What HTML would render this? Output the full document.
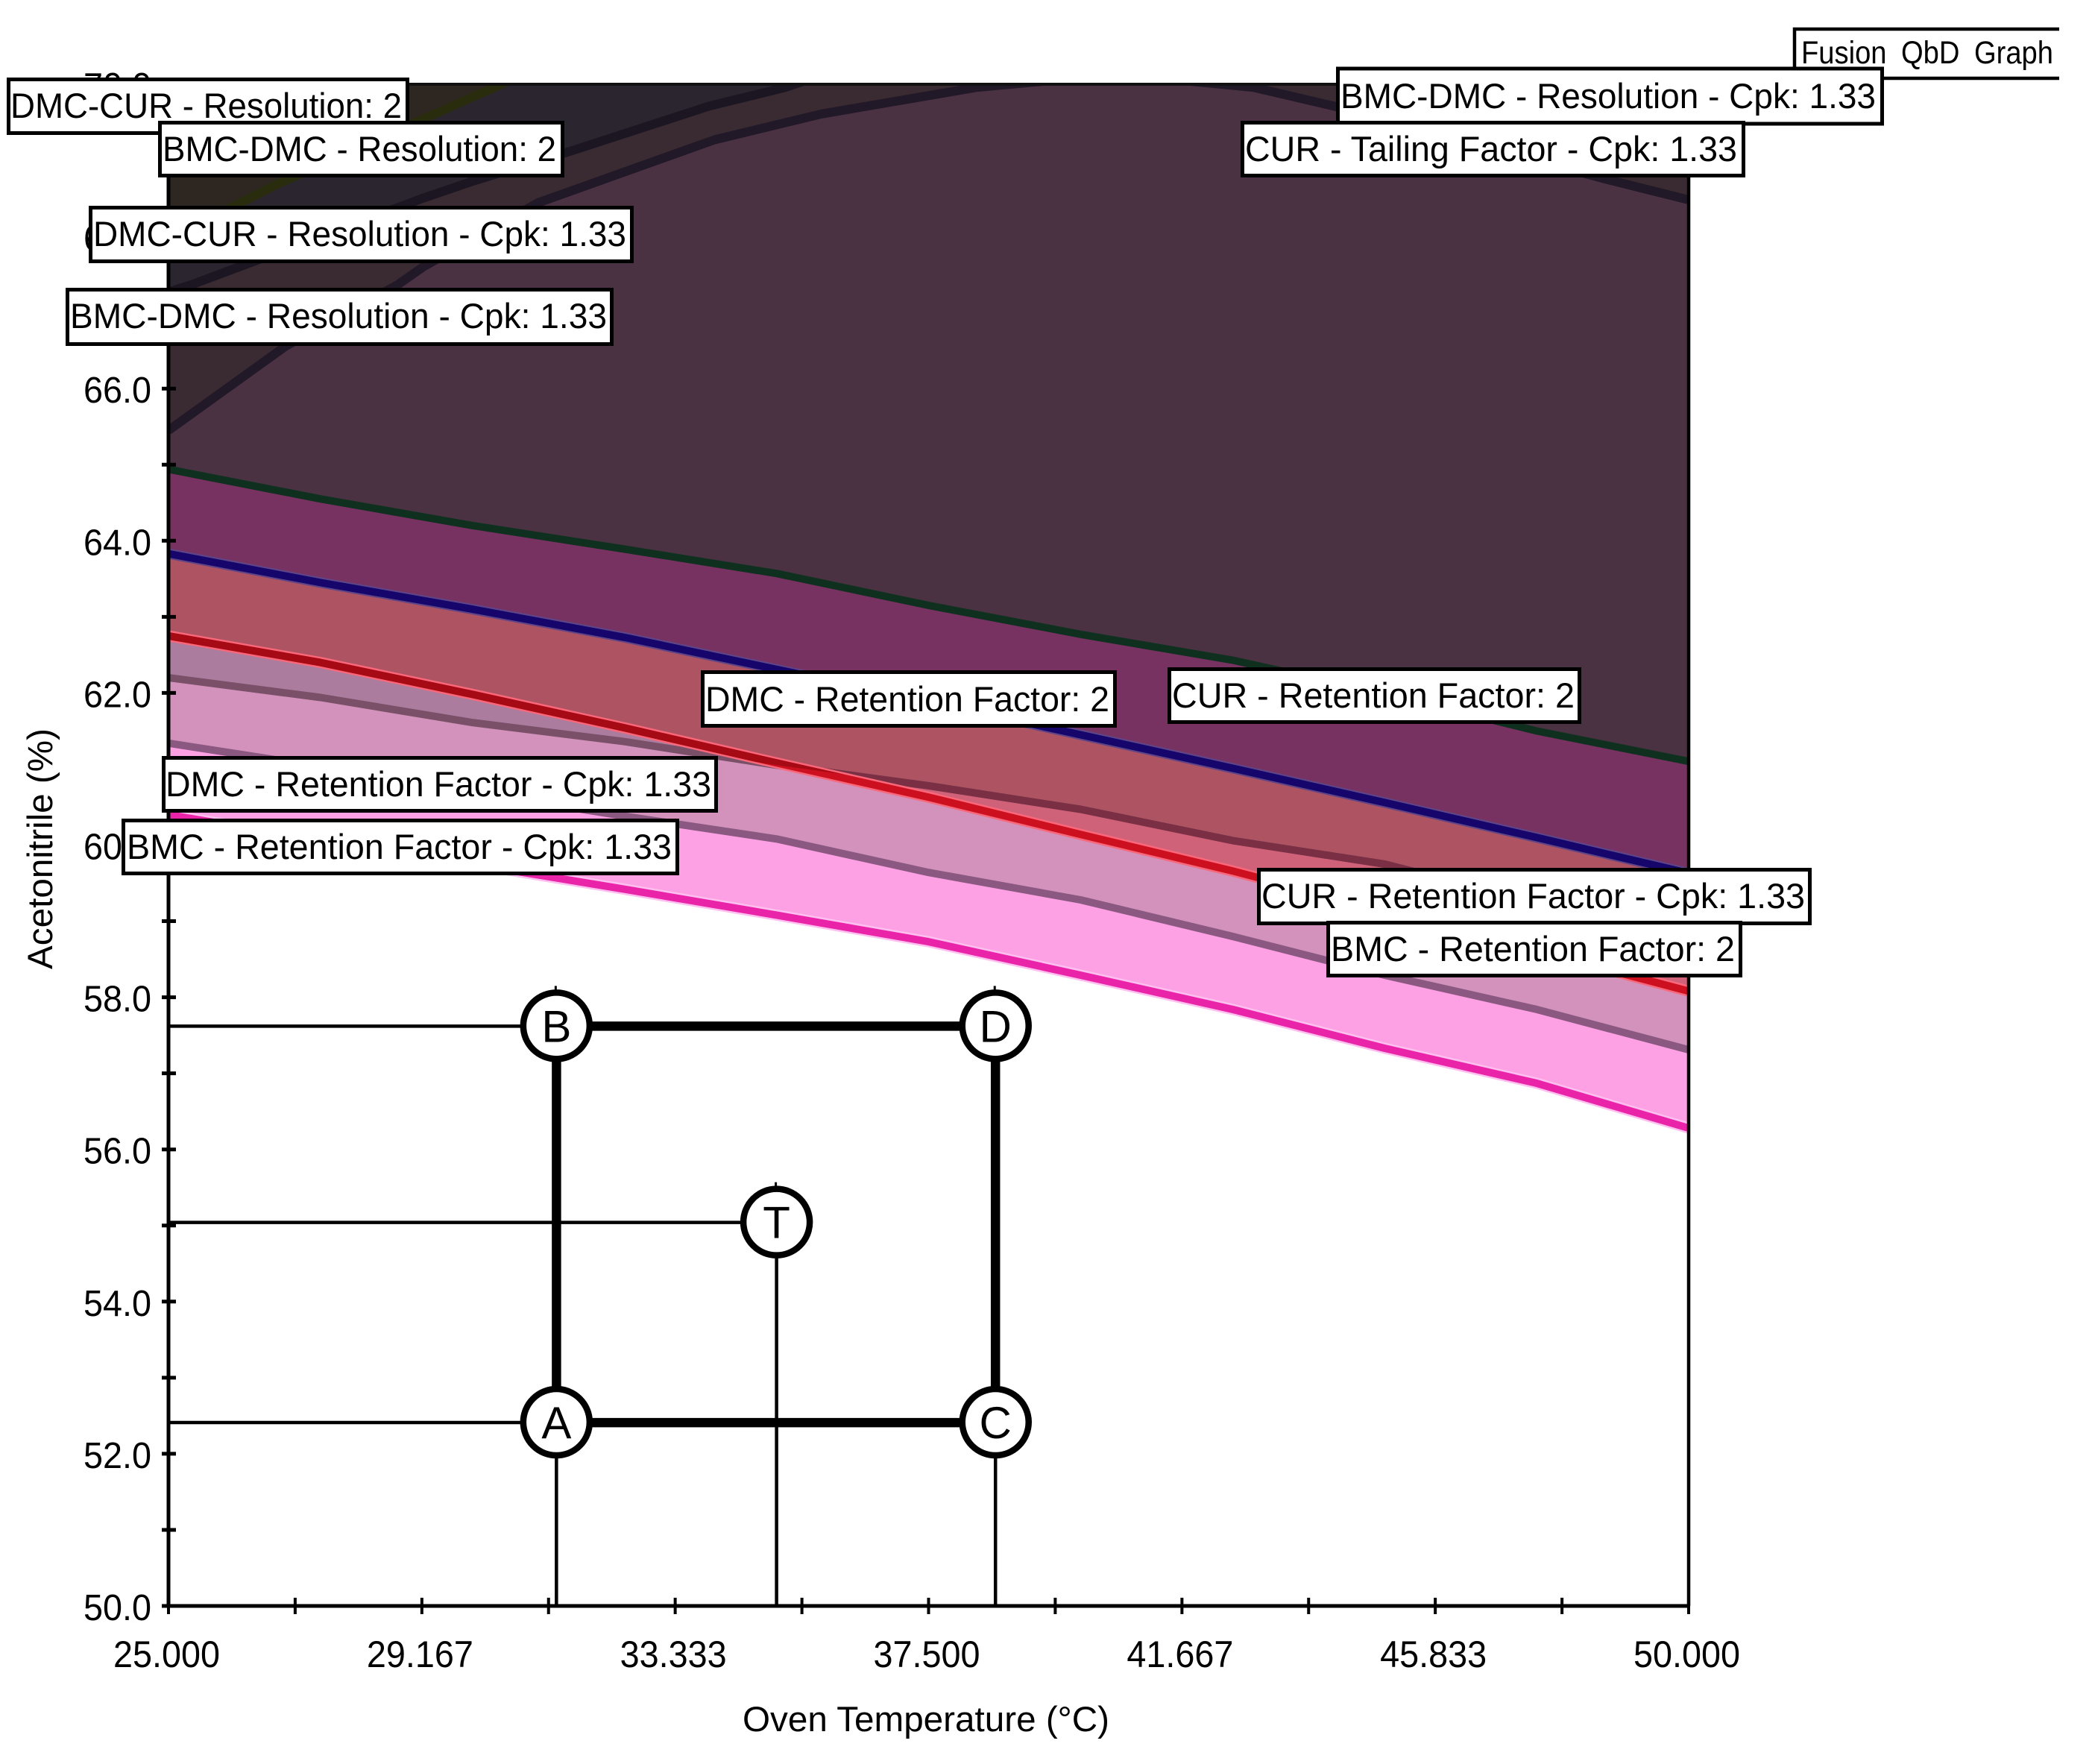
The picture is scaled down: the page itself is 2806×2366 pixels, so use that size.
<!DOCTYPE html>
<html lang="en">
<head>
<meta charset="utf-8">
<title>Fusion QbD Graph</title>
<style>
html,body{margin:0;padding:0;background:#fff;width:2806px;height:2366px;overflow:hidden}
svg{display:block}
text{font-family:"Liberation Sans",sans-serif;font-size:47px;fill:#000}
</style>
</head>
<body>
<svg id="chart" xmlns="http://www.w3.org/2000/svg" width="2806" height="2366" viewBox="0 0 2806 2366">
  <defs>
    <clipPath id="plot-clip"><rect x="226" y="113" width="2039" height="2041"/></clipPath>
  </defs>
  <rect x="0" y="0" width="2806" height="2366" fill="#fff"/>
  <g id="regions" clip-path="url(#plot-clip)"></g>
  <g id="contours" clip-path="url(#plot-clip)"></g>
  <g id="guides"></g>
  <g id="axes"></g>
  <g id="markers"></g>

  <text x="996" y="2322" textLength="492" lengthAdjust="spacingAndGlyphs">Oven Temperature (°C)</text>
  <text transform="translate(70,1300) rotate(-90)" x="0" y="0" textLength="323" lengthAdjust="spacingAndGlyphs">Acetonitrile (%)</text>

  <g>
    <rect x="2405" y="37" width="357" height="70" fill="#fff"/>
    <path d="M2762 39H2407V105H2762" fill="none" stroke="#000" stroke-width="4.5"/>
    <text x="2416" y="85" style="font-size:43px;word-spacing:10px" textLength="338" lengthAdjust="spacingAndGlyphs">Fusion QbD Graph</text>
  </g>

  <g>
    <rect x="11.5" y="106.5" width="535" height="72" fill="#fff" stroke="#000" stroke-width="5"/>
    <text x="14" y="158" textLength="525" lengthAdjust="spacingAndGlyphs">DMC-CUR - Resolution: 2</text>
  </g>
  <g>
    <rect x="214.5" y="164.5" width="540" height="71" fill="#fff" stroke="#000" stroke-width="5"/>
    <text x="218" y="216" textLength="528" lengthAdjust="spacingAndGlyphs">BMC-DMC - Resolution: 2</text>
  </g>
  <g>
    <rect x="121.5" y="278.5" width="726" height="72" fill="#fff" stroke="#000" stroke-width="5"/>
    <text x="125" y="330" textLength="715" lengthAdjust="spacingAndGlyphs">DMC-CUR - Resolution - Cpk: 1.33</text>
  </g>
  <g>
    <rect x="90.5" y="388.5" width="730" height="73" fill="#fff" stroke="#000" stroke-width="5"/>
    <text x="94" y="440" textLength="720" lengthAdjust="spacingAndGlyphs">BMC-DMC - Resolution - Cpk: 1.33</text>
  </g>
  <g>
    <rect x="1794.5" y="92" width="730" height="74" fill="#fff" stroke="#000" stroke-width="5"/>
    <text x="1798" y="145" textLength="718" lengthAdjust="spacingAndGlyphs">BMC-DMC - Resolution - Cpk: 1.33</text>
  </g>
  <g>
    <rect x="1666.5" y="164.5" width="672" height="71" fill="#fff" stroke="#000" stroke-width="5"/>
    <text x="1670" y="216" textLength="660" lengthAdjust="spacingAndGlyphs">CUR - Tailing Factor - Cpk: 1.33</text>
  </g>
  <g>
    <rect x="942.5" y="901.5" width="553" height="72" fill="#fff" stroke="#000" stroke-width="5"/>
    <text x="946" y="954" textLength="542" lengthAdjust="spacingAndGlyphs">DMC - Retention Factor: 2</text>
  </g>
  <g>
    <rect x="1568.5" y="897.5" width="550" height="71" fill="#fff" stroke="#000" stroke-width="5"/>
    <text x="1572" y="949" textLength="540" lengthAdjust="spacingAndGlyphs">CUR - Retention Factor: 2</text>
  </g>
  <g>
    <rect x="219.5" y="1016.5" width="741" height="71" fill="#fff" stroke="#000" stroke-width="5"/>
    <text x="222" y="1068" textLength="732" lengthAdjust="spacingAndGlyphs">DMC - Retention Factor - Cpk: 1.33</text>
  </g>
  <g>
    <rect x="165.5" y="1100.5" width="743" height="71" fill="#fff" stroke="#000" stroke-width="5"/>
    <text x="170" y="1152" textLength="731" lengthAdjust="spacingAndGlyphs">BMC - Retention Factor - Cpk: 1.33</text>
  </g>
  <g>
    <rect x="1688.5" y="1166.5" width="739" height="72" fill="#fff" stroke="#000" stroke-width="5"/>
    <text x="1692" y="1218" textLength="729" lengthAdjust="spacingAndGlyphs">CUR - Retention Factor - Cpk: 1.33</text>
  </g>
  <g>
    <rect x="1781.5" y="1237.5" width="553" height="71" fill="#fff" stroke="#000" stroke-width="5"/>
    <text x="1785" y="1289" textLength="542" lengthAdjust="spacingAndGlyphs">BMC - Retention Factor: 2</text>
  </g>
</svg>

<script>
// ---- chart data ----
const temps = [25, 27.5, 30, 32.5, 35, 37.5, 40, 42.5, 45, 47.5, 50];
const bmcRetention2 = [60.40, 60.06, 59.75, 59.42, 59.08, 58.73, 58.29, 57.84, 57.33, 56.87, 56.28];
const bmcRetentionCpk = [61.34, 61.03, 60.70, 60.38, 60.08, 59.64, 59.28, 58.80, 58.29, 57.84, 57.31];
const curRetentionCpk = [62.75, 62.40, 61.98, 61.54, 61.08, 60.63, 60.14, 59.66, 59.14, 58.61, 58.08];
const dmcRetentionCpk = [62.20, 61.94, 61.61, 61.36, 61.05, 60.78, 60.47, 60.06, 59.75, 59.24, 58.75];
const dmcRetention2 = [63.83, 63.45, 63.10, 62.73, 62.31, 61.89, 61.45, 61.01, 60.56, 60.10, 59.63];
const curRetention2 = [64.94, 64.55, 64.20, 63.89, 63.57, 63.15, 62.77, 62.43, 61.99, 61.50, 61.10];
const cpkArcTemps = [25, 26.93, 28.76, 29.19, 31.07, 33.98, 35.74, 38.30, 40.62, 42.84, 44.23, 48.6, 50];
const cpkArcValues = [65.45, 66.56, 67.36, 67.6, 68.44, 69.27, 69.61, 69.96, 70.13, 69.96, 69.70, 68.76, 68.48];
const bmcDmcRes2Temps = [25, 25.36, 29.14, 30.02, 31.61, 33.88, 35.15, 35.96];
const bmcDmcRes2Values = [67.27, 67.36, 68.49, 68.73, 69.12, 69.71, 69.96, 70.18];
const dmcCurRes2Temps = [25, 26.14, 26.77, 30.36, 30.81];
const dmcCurRes2Values = [68.02, 68.42, 68.68, 69.96, 70.13];
const xTickValues = [25, 27.083, 29.167, 31.25, 33.333, 35.417, 37.5, 39.583, 41.667, 43.75, 45.833, 47.917, 50];
const xTickLabels = ["25.000", "", "29.167", "", "33.333", "", "37.500", "", "41.667", "", "45.833", "", "50.000"];
const yTickValues = [50, 51, 52, 53, 54, 55, 56, 57, 58, 59, 60, 61, 62, 63, 64, 65, 66, 67, 68, 69, 70];
const yTickLabels = ["50.0", "", "52.0", "", "54.0", "", "56.0", "", "58.0", "", "60.0", "", "62.0", "", "64.0", "", "66.0", "", "68.0", "", "70.0"];
const setpointNames = ["A", "B", "C", "D", "T"];
const setpointTemps = [31.38, 31.38, 38.6, 38.6, 35];
const setpointAcn = [52.41, 57.62, 52.41, 57.62, 55.04];

// ---- axis functions ----
const xScale = t => 226 + (t - 25) * 81.56;
const yScale = v => 2154 - (v - 50) * 102.05;

const NS = "http://www.w3.org/2000/svg";
function make(tag, attrs) {
  const node = document.createElementNS(NS, tag);
  for (const k in attrs) node.setAttribute(k, attrs[k]);
  return node;
}
function linePath(ts, vs) {
  return ts.map((t, i) => (i ? "L" : "M") + xScale(t).toFixed(1) + " " + yScale(vs[i]).toFixed(1)).join("");
}
function abovePath(ts, vs) {
  return linePath(ts, vs) + "L" + xScale(ts[ts.length - 1]).toFixed(1) + " 60L" + xScale(ts[0]).toFixed(1) + " 60Z";
}

const defs = document.querySelector("defs");
const regions = document.getElementById("regions");
const contours = document.getElementById("contours");
const guides = document.getElementById("guides");
const axes = document.getElementById("axes");
const markers = document.getElementById("markers");

// clip paths: area above the DMC and CUR Cpk boundaries
const clipD = make("clipPath", {id: "above-d"});


clipD.appendChild(make("path", {d: abovePath(temps, dmcRetentionCpk)}));
defs.appendChild(clipD);
const clipC = make("clipPath", {id: "above-c"});


clipC.appendChild(make("path", {d: abovePath(temps, curRetentionCpk)}));
defs.appendChild(clipC);

// filled regions
const r1 = make("path", {d: abovePath(temps, bmcRetention2), fill: "#fea1e4"});


regions.appendChild(r1);
const r2 = make("path", {d: abovePath(temps, bmcRetentionCpk), fill: "#d292bb"});


regions.appendChild(r2);
const r3 = make("path", {d: abovePath(temps, dmcRetentionCpk), fill: "#ab7c9e"});


regions.appendChild(r3);
const r4 = make("path", {d: abovePath(temps, curRetentionCpk), fill: "#cf6178"});


regions.appendChild(r4);
const r5 = make("path", {d: abovePath(temps, curRetentionCpk), fill: "#ae5362", "clip-path": "url(#above-d)"});


regions.appendChild(r5);
const r6 = make("path", {d: abovePath(temps, dmcRetention2), fill: "#773262"});


regions.appendChild(r6);
const r7 = make("path", {d: abovePath(temps, curRetention2), fill: "#4a3243"});


regions.appendChild(r7);
const r8 = make("path", {d: abovePath(cpkArcTemps, cpkArcValues), fill: "#3a2b32"});


regions.appendChild(r8);
const r9 = make("path", {d: abovePath(bmcDmcRes2Temps, bmcDmcRes2Values), fill: "#2b2530"});


regions.appendChild(r9);
const r10 = make("path", {d: abovePath(dmcCurRes2Temps, dmcCurRes2Values), fill: "#2e2620"});


regions.appendChild(r10);

// contour lines
const lineStyle = {fill: "none", "stroke-width": 10, "stroke-linejoin": "round"};
function strokeOf(color, extra) { return Object.assign({stroke: color}, lineStyle, extra || {}); }

const h1 = make("path", Object.assign({d: linePath(temps, bmcRetention2)}, strokeOf("#ffc0f0", {"stroke-width": 15})));


contours.appendChild(h1);
const l1 = make("path", Object.assign({d: linePath(temps, bmcRetention2)}, strokeOf("#ea24a8")));


contours.appendChild(l1);
const l2 = make("path", Object.assign({d: linePath(temps, bmcRetentionCpk)}, strokeOf("#8a5880")));


contours.appendChild(l2);
const l3a = make("path", Object.assign({d: linePath(temps, dmcRetentionCpk)}, strokeOf("#7a4f68")));


contours.appendChild(l3a);
const l3b = make("path", Object.assign({d: linePath(temps, dmcRetentionCpk)}, strokeOf("#7a2f44", {"clip-path": "url(#above-c)"})));


contours.appendChild(l3b);
const h4 = make("path", Object.assign({d: linePath(temps, curRetentionCpk)}, strokeOf("#f8687a", {"stroke-width": 15})));


contours.appendChild(h4);
const l4a = make("path", Object.assign({d: linePath(temps, curRetentionCpk)}, strokeOf("#cc1020")));


contours.appendChild(l4a);
const l4b = make("path", Object.assign({d: linePath(temps, curRetentionCpk)}, strokeOf("#a60a14", {"clip-path": "url(#above-d)"})));


contours.appendChild(l4b);
const h5 = make("path", Object.assign({d: linePath(temps, dmcRetention2)}, strokeOf("#5f4588", {"stroke-width": 14})));


contours.appendChild(h5);
const l5 = make("path", Object.assign({d: linePath(temps, dmcRetention2)}, strokeOf("#16066c")));


contours.appendChild(l5);
const l6 = make("path", Object.assign({d: linePath(temps, curRetention2)}, strokeOf("#10301f")));


contours.appendChild(l6);
const l7 = make("path", Object.assign({d: linePath(cpkArcTemps, cpkArcValues)}, strokeOf("#211828", {"stroke-width": 12})));


contours.appendChild(l7);
const l8 = make("path", Object.assign({d: linePath(bmcDmcRes2Temps, bmcDmcRes2Values)}, strokeOf("#1c1622", {"stroke-width": 12})));


contours.appendChild(l8);
const l9 = make("path", Object.assign({d: linePath(dmcCurRes2Temps, dmcCurRes2Values)}, strokeOf("#2a2c0e", {"stroke-width": 12})));


contours.appendChild(l9);

// setpoint guide lines (thin) and design-space rectangle (thick)
const axisX0 = xScale(25);
const axisY0 = yScale(50);
const guideLeft = ["A", "B", "T"];
const guideDown = ["A", "C", "T"];
guideLeft.forEach(name => {
  const i = setpointNames.indexOf(name);
  const g = make("line", {x1: axisX0, x2: xScale(setpointTemps[i]), y1: yScale(setpointAcn[i]), y2: yScale(setpointAcn[i]), stroke: "#000", "stroke-width": 4.5});
  
  
  guides.appendChild(g);
});
guideDown.forEach(name => {
  const i = setpointNames.indexOf(name);
  const g = make("line", {x1: xScale(setpointTemps[i]), x2: xScale(setpointTemps[i]), y1: yScale(setpointAcn[i]), y2: axisY0, stroke: "#000", "stroke-width": 4.5});
  
  
  guides.appendChild(g);
});
const order = ["A", "B", "D", "C"];
const rectPath = order.map((n, k) => {
  const i = setpointNames.indexOf(n);
  return (k ? "L" : "M") + xScale(setpointTemps[i]).toFixed(1) + " " + yScale(setpointAcn[i]).toFixed(1);
}).join("") + "Z";
const dsRect = make("path", {d: rectPath, fill: "none", stroke: "#000", "stroke-width": 12.5});


guides.appendChild(dsRect);

// axes
const frameTop = make("line", {x1: 224, x2: 2267, y1: yScale(70), y2: yScale(70), stroke: "#111", "stroke-width": 4});


axes.appendChild(frameTop);
const frameRight = make("line", {x1: xScale(50), x2: xScale(50), y1: yScale(70), y2: axisY0, stroke: "#000", "stroke-width": 4.5});


axes.appendChild(frameRight);
const yAxisLine = make("line", {x1: axisX0, x2: axisX0, y1: yScale(70), y2: axisY0, stroke: "#000", "stroke-width": 5});


axes.appendChild(yAxisLine);
const xAxisLine = make("line", {x1: axisX0, x2: xScale(50), y1: axisY0, y2: axisY0, stroke: "#000", "stroke-width": 5});


axes.appendChild(xAxisLine);

xTickValues.forEach((t, i) => {
  const tick = make("line", {x1: xScale(t), x2: xScale(t), y1: axisY0 - 11, y2: axisY0 + 11, stroke: "#000", "stroke-width": 4});
  
  
  axes.appendChild(tick);
  if (xTickLabels[i]) {
    const lab = make("text", {x: xScale(t) - 74, y: 2236, textLength: 143, lengthAdjust: "spacingAndGlyphs", style: "font-size:50px"});
    
    
    lab.textContent = xTickLabels[i];
    axes.appendChild(lab);
  }
});
yTickValues.forEach((v, i) => {
  const tick = make("line", {x1: axisX0 - 9, x2: axisX0 + 10, y1: yScale(v), y2: yScale(v), stroke: "#000", "stroke-width": 5});
  
  
  axes.appendChild(tick);
  if (yTickLabels[i]) {
    const lab = make("text", {x: 112, y: yScale(v) + 19, textLength: 91, lengthAdjust: "spacingAndGlyphs", style: "font-size:49px"});
    
    
    lab.textContent = yTickLabels[i];
    axes.appendChild(lab);
  }
});

// setpoint markers
setpointNames.forEach((name, i) => {
  const nub = make("line", {x1: xScale(setpointTemps[i]) - 1, x2: xScale(setpointTemps[i]) - 1, y1: yScale(setpointAcn[i]) - 54, y2: yScale(setpointAcn[i]) - 46, stroke: "#000", "stroke-width": 3});
  
  
  markers.appendChild(nub);
  const c = make("circle", {cx: xScale(setpointTemps[i]), cy: yScale(setpointAcn[i]) - 0.5, r: 44.5, fill: "#fff", stroke: "#000", "stroke-width": 8.5});
  
  
  markers.appendChild(c);
  const t = make("text", {x: xScale(setpointTemps[i]), y: yScale(setpointAcn[i]) + 21, "text-anchor": "middle", style: "font-size:60px"});
  
  
  t.textContent = name;
  markers.appendChild(t);
});
</script>
</body>
</html>
